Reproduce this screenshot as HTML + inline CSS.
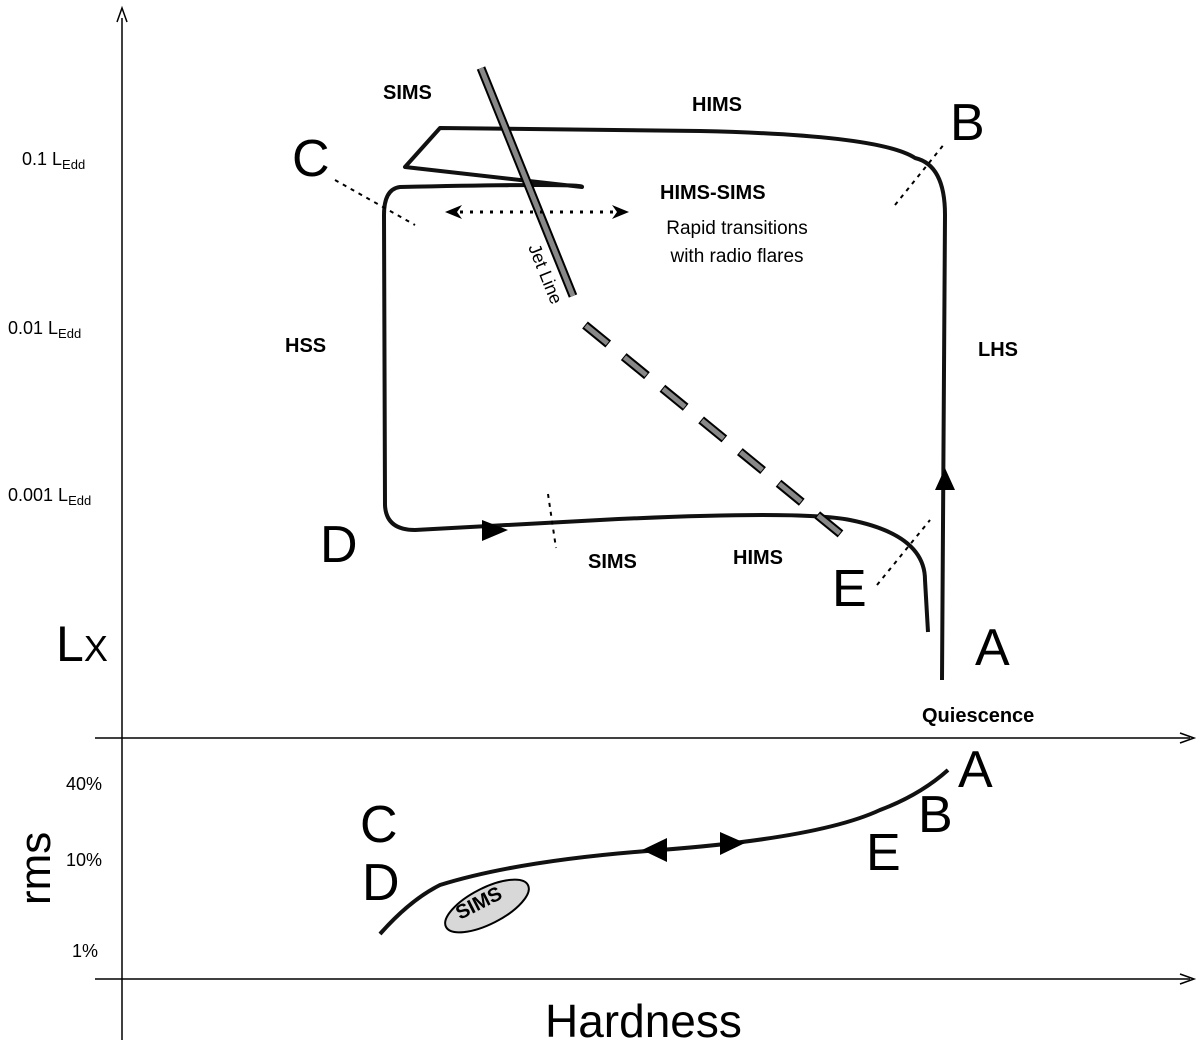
<!DOCTYPE html>
<html><head><meta charset="utf-8"><style>
html,body{margin:0;padding:0;background:#fff}
svg{display:block}
text{font-family:"Liberation Sans","DejaVu Sans",sans-serif;fill:#000}
.b{font-weight:bold;font-size:20px}
.big{font-size:52px}
</style></head><body>
<svg width="1200" height="1044" viewBox="0 0 1200 1044" xmlns="http://www.w3.org/2000/svg">
<defs>
<marker id="ah" markerWidth="10" markerHeight="10" refX="5" refY="5" orient="auto" markerUnits="userSpaceOnUse"><path d="M0,0 L10,5 L0,10 z" fill="#000"/></marker>
</defs>
<!-- axes -->
<line x1="122" y1="1040" x2="122" y2="18" stroke="#000" stroke-width="1.5"/>
<path d="M117,22 L122,8 L127,22" fill="none" stroke="#000" stroke-width="1.5"/>
<line x1="95" y1="738" x2="1190" y2="738" stroke="#000" stroke-width="1.5"/>
<path d="M1180,733 L1194,738 L1180,743" fill="none" stroke="#000" stroke-width="1.5"/>
<line x1="95" y1="979" x2="1190" y2="979" stroke="#000" stroke-width="1.5"/>
<path d="M1180,974 L1194,979 L1180,984" fill="none" stroke="#000" stroke-width="1.5"/>

<!-- main loop -->
<path d="M942,680 L945,215 Q945,165 915,158 Q880,135 700,131 L440,128 L405,167 L582,187 Q585,183 400,187 Q384,189 384,215 L385,505 Q386,530 415,530 L600,520 Q800,510 850,520 Q925,535 925,580 L928,632" fill="none" stroke="#111" stroke-width="4" stroke-linejoin="round"/>
<path d="M945,490 L955,468 L965,490 z" fill="#000" transform="translate(-10,0)"/>
<path d="M482,520 L508,530 L482,541 z" fill="#000"/>

<!-- jet line -->
<line x1="481" y1="68" x2="573" y2="296" stroke="#000" stroke-width="9"/>
<line x1="481" y1="68" x2="573" y2="296" stroke="#888" stroke-width="5"/>
<line x1="585" y1="325" x2="848" y2="540" stroke="#000" stroke-width="9" stroke-dasharray="30,20"/>
<line x1="585" y1="325" x2="848" y2="540" stroke="#888" stroke-width="5" stroke-dasharray="28,22" stroke-dashoffset="-1"/>
<text x="0" y="0" font-size="18" transform="translate(528,247) rotate(68)">Jet Line</text>

<!-- dotted separators -->
<line x1="335" y1="180" x2="415" y2="225" stroke="#000" stroke-width="2" stroke-dasharray="4,5"/>
<line x1="895" y1="205" x2="945" y2="143" stroke="#000" stroke-width="2" stroke-dasharray="4,5"/>
<line x1="877" y1="585" x2="930" y2="520" stroke="#000" stroke-width="2" stroke-dasharray="4,5"/>
<line x1="548" y1="494" x2="556" y2="548" stroke="#000" stroke-width="2" stroke-dasharray="4,5"/>
<line x1="460" y1="212" x2="615" y2="212" stroke="#000" stroke-width="3" stroke-dasharray="3,7"/>
<path d="M462,205 L445,212 L462,219 L457,212 z" fill="#000"/>
<path d="M612,205 L629,212 L612,219 L617,212 z" fill="#000"/>

<!-- labels -->
<text class="b" x="383" y="99">SIMS</text>
<text class="b" x="692" y="111">HIMS</text>
<text class="b" x="660" y="199">HIMS-SIMS</text>
<text x="737" y="234" font-size="19" text-anchor="middle">Rapid transitions</text>
<text x="737" y="262" font-size="19" text-anchor="middle">with radio flares</text>
<text class="b" x="285" y="352">HSS</text>
<text class="b" x="978" y="356">LHS</text>
<text class="b" x="588" y="568">SIMS</text>
<text class="b" x="733" y="564">HIMS</text>
<text class="b" x="922" y="722">Quiescence</text>
<text class="big" x="292" y="176">C</text>
<text class="big" x="950" y="140">B</text>
<text class="big" x="320" y="562">D</text>
<text class="big" x="832" y="606">E</text>
<text class="big" x="975" y="665">A</text>
<text x="56" y="661" font-size="50">L<tspan font-size="36">X</tspan></text>

<text x="22" y="165" font-size="18">0.1 L<tspan font-size="13" dy="4">Edd</tspan></text>
<text x="8" y="334" font-size="18">0.01 L<tspan font-size="13" dy="4">Edd</tspan></text>
<text x="8" y="501" font-size="18">0.001 L<tspan font-size="13" dy="4">Edd</tspan></text>

<!-- bottom panel -->
<text x="66" y="790" font-size="18">40%</text>
<text x="66" y="866" font-size="18">10%</text>
<text x="72" y="957" font-size="18">1%</text>
<text font-size="44" transform="translate(50,905) rotate(-90)">rms</text>
<text x="545" y="1037" font-size="46">Hardness</text>
<path d="M380,934 Q410,900 440,885 Q520,860 660,850 Q820,838 880,810 Q920,795 948,770" fill="none" stroke="#111" stroke-width="4"/>
<path d="M642,850 L667,838 L667,862 z" fill="#000"/>
<path d="M745,843 L720,832 L720,855 z" fill="#000"/>
<ellipse cx="487" cy="906" rx="46" ry="18" transform="rotate(-27 487 906)" fill="#d8d8d8" stroke="#000" stroke-width="2"/>
<text class="b" font-size="17" transform="translate(460,920) rotate(-27)">SIMS</text>
<text class="big" x="360" y="842">C</text>
<text class="big" x="362" y="900">D</text>
<text class="big" x="866" y="870">E</text>
<text class="big" x="918" y="832">B</text>
<text class="big" x="958" y="787">A</text>
</svg>
</body></html>
